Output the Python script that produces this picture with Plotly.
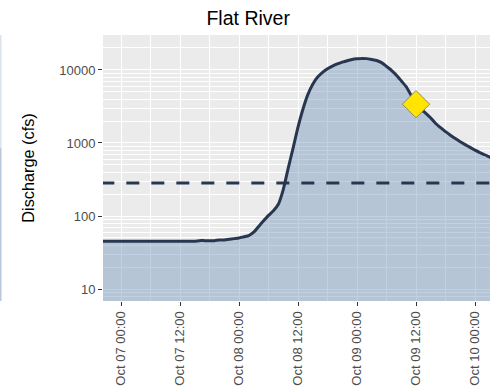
import pandas as pd
import plotly.graph_objects as go

# Hourly discharge (cfs), hours measured from Oct 07 00:00
hours = [-4, -2, 0, 2, 4, 6, 8, 10, 12, 14, 15, 16, 17, 18, 19, 20, 21, 22, 23,
         24, 25, 26, 27, 28, 29, 30, 31, 32, 33, 34, 35, 36, 37, 38, 39, 40,
         41, 42, 43, 44, 45, 46, 47, 48, 49, 50, 51, 52, 53, 54, 55, 56, 57,
         58, 59, 60, 61, 62, 63, 64, 65, 66, 67, 68, 69, 70, 71, 72, 73, 74,
         75, 76]
discharge = [45, 45, 45, 45, 45, 45, 45, 45, 45, 45, 45, 46, 46, 46, 46, 47,
             47, 48, 49, 50, 52, 54, 60, 72, 86, 102, 118, 145, 230, 450, 850,
             1650, 2900, 4600, 6400, 8000, 9300, 10400, 11300, 12100, 12800,
             13400, 13900, 14200, 14400, 14300, 13900, 13500, 12600, 11200,
             9900, 8500, 7100, 5900, 4500, 3400, 2900, 2550, 2200, 1850, 1620,
             1430, 1280, 1150, 1040, 950, 870, 800, 740, 690, 640, 600]

# Flood threshold and current reading
threshold_cfs = 283
current_hour = 60
current_cfs = 3400

y_tick_vals = [10, 100, 1000, 10000]
y_tick_text = ["10", "100", "1000", "10000"]

base = pd.Timestamp("2019-10-07 00:00")
times = [base + pd.Timedelta(hours=h) for h in hours]
t_now = base + pd.Timedelta(hours=current_hour)

line_col = "#283650"
fig = go.Figure()

# baseline below the visible range so the area fills down to the panel edge
fig.add_trace(go.Scatter(x=times, y=[1] * len(times), mode="lines",
                         line=dict(width=0, color="rgba(0,0,0,0)"),
                         hoverinfo="skip", showlegend=False))
fig.add_trace(go.Scatter(x=times, y=discharge, mode="lines",
                         line=dict(color=line_col, width=3, shape="spline",
                                   smoothing=0.6),
                         fill="tonexty", fillcolor="rgba(110,145,187,0.42)",
                         showlegend=False))
fig.add_trace(go.Scatter(x=[times[0], times[-1]],
                         y=[threshold_cfs, threshold_cfs], mode="lines",
                         line=dict(color=line_col, width=3, dash="13px,12px"),
                         showlegend=False))
fig.add_trace(go.Scatter(x=[t_now], y=[current_cfs], mode="markers",
                         marker=dict(symbol="diamond", size=21, color="#FFE500",
                                     line=dict(color="#8a8a6a", width=1)),
                         showlegend=False))

minor_y = [m * 10 ** k for k in range(0, 5) for m in range(2, 10)]

fig.update_layout(
    width=490, height=389,
    margin=dict(l=103, r=0, t=35, b=88),
    paper_bgcolor="white", plot_bgcolor="#EBEBEB",
    font=dict(family="Liberation Sans, Arial, sans-serif"),
    title=dict(text="Flat River", x=0.5065, xanchor="center",
               y=1 - 18 / 389, yanchor="middle", yref="container",
               font=dict(size=19.5, color="black")),
)
fig.update_xaxes(
    range=[base - pd.Timedelta(hours=3.66), base + pd.Timedelta(hours=75.05)],
    tick0=base, dtick=12 * 3600 * 1000, tickformat="%b %d %H:%M",
    tickangle=-90, tickfont=dict(size=13, color="#4D4D4D"),
    ticks="outside", ticklen=4, tickcolor="#333333",
    showgrid=True, gridcolor="white", gridwidth=1.4,
    minor=dict(dtick=6 * 3600 * 1000, tick0=base, showgrid=True,
               gridcolor="white", gridwidth=0.7),
    showline=False, zeroline=False,
)
fig.update_yaxes(
    type="log", range=[0.836, 4.479],
    tickmode="array", tickvals=y_tick_vals, ticktext=y_tick_text,
    tickfont=dict(size=13, color="#4D4D4D"),
    ticks="outside", ticklen=4, tickcolor="#333333",
    showgrid=True, gridcolor="white", gridwidth=1.4,
    minor=dict(tickmode="array", tickvals=minor_y, showgrid=True,
               gridcolor="white", gridwidth=0.7, ticks=""),
    title=dict(text="Discharge (cfs)", font=dict(size=16.3, color="black"),
               standoff=20),
    showline=False, zeroline=False,
)

# edge of the neighbouring panel on the left
fig.add_shape(type="rect", xref="paper", yref="paper",
              x0=-103 / 387, x1=-101.5 / 387, y0=(301 - 148) / 266, y1=1,
              fillcolor="#dde3ea", line_width=0, layer="above")
fig.add_shape(type="rect", xref="paper", yref="paper",
              x0=-103 / 387, x1=-101.5 / 387, y0=0, y1=(301 - 148) / 266,
              fillcolor="#b9c8da", line_width=0, layer="above")

fig.write_html("out.html")
